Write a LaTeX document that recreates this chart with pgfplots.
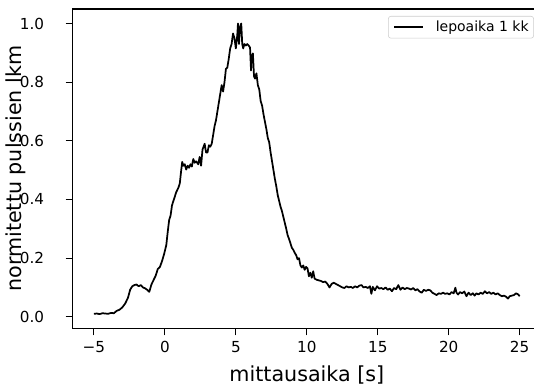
\documentclass[border=0pt]{standalone}
\usepackage{fontspec}
\setmainfont{DejaVu Sans}
\usepackage{pgfplots}
\usepackage{pgfplotstable}
\pgfplotsset{compat=1.18}
\pgfplotstableread{
t v
-5.0 0.010
-4.8 0.011
-4.6 0.009
-4.4 0.012
-4.2 0.011
-4.0 0.010
-3.8 0.013
-3.6 0.012
-3.4 0.020
-3.2 0.024
-3.0 0.032
-2.8 0.045
-2.6 0.065
-2.45 0.092
-2.3 0.104
-2.15 0.108
-2.0 0.110
-1.85 0.104
-1.7 0.108
-1.55 0.100
-1.4 0.097
-1.25 0.092
-1.1 0.085
-0.95 0.110
-0.8 0.125
-0.65 0.140
-0.5 0.163
-0.35 0.170
-0.2 0.190
-0.05 0.215
0.1 0.245
0.2 0.290
0.3 0.330
0.4 0.345
0.5 0.380
0.6 0.395
0.7 0.410
0.8 0.425
0.95 0.440
1.05 0.455
1.15 0.500
1.22 0.528
1.3 0.515
1.4 0.520
1.5 0.502
1.6 0.515
1.7 0.508
1.8 0.520
1.9 0.512
2.0 0.538
2.1 0.525
2.2 0.530
2.35 0.520
2.45 0.545
2.55 0.515
2.65 0.570
2.8 0.590
2.9 0.560
3.0 0.560
3.1 0.585
3.2 0.580
3.3 0.590
3.4 0.620
3.5 0.650
3.6 0.670
3.7 0.700
3.8 0.730
3.9 0.760
4.0 0.790
4.1 0.768
4.2 0.800
4.3 0.845
4.4 0.850
4.5 0.880
4.6 0.915
4.7 0.930
4.8 0.966
4.9 0.950
5.0 0.915
5.1 0.960
5.15 1.000
5.22 0.930
5.3 0.990
5.38 1.000
5.45 0.930
5.52 0.915
5.6 0.930
5.7 0.925
5.8 0.930
5.9 0.925
6.0 0.918
6.07 0.840
6.12 0.890
6.2 0.898
6.28 0.820
6.35 0.812
6.45 0.830
6.55 0.790
6.65 0.775
6.75 0.735
6.85 0.720
6.95 0.690
7.05 0.665
7.15 0.640
7.25 0.610
7.35 0.595
7.45 0.560
7.55 0.530
7.65 0.500
7.75 0.470
7.85 0.445
7.95 0.415
8.05 0.395
8.15 0.375
8.25 0.360
8.35 0.340
8.45 0.320
8.55 0.300
8.65 0.278
8.75 0.265
8.85 0.250
8.95 0.235
9.05 0.228
9.15 0.218
9.25 0.210
9.35 0.196
9.45 0.200
9.55 0.175
9.65 0.168
9.75 0.175
9.85 0.160
9.95 0.170
10.05 0.165
10.15 0.138
10.25 0.150
10.35 0.133
10.45 0.155
10.55 0.130
10.7 0.126
10.85 0.124
11.0 0.122
11.15 0.118
11.3 0.120
11.45 0.112
11.6 0.100
11.75 0.112
11.9 0.116
12.05 0.112
12.2 0.108
12.35 0.104
12.5 0.100
12.65 0.098
12.8 0.104
12.95 0.100
13.1 0.102
13.25 0.098
13.4 0.104
13.55 0.100
13.7 0.106
13.85 0.108
14.0 0.100
14.15 0.102
14.3 0.098
14.45 0.104
14.55 0.078
14.65 0.102
14.8 0.090
14.95 0.104
15.1 0.096
15.25 0.098
15.4 0.094
15.55 0.100
15.7 0.092
15.85 0.096
16.0 0.087
16.15 0.098
16.3 0.094
16.45 0.108
16.6 0.092
16.75 0.100
16.9 0.094
17.05 0.098
17.2 0.096
17.35 0.093
17.5 0.098
17.65 0.090
17.8 0.094
17.95 0.086
18.1 0.082
18.25 0.092
18.4 0.088
18.55 0.092
18.7 0.090
18.85 0.082
19.0 0.078
19.15 0.074
19.3 0.080
19.45 0.078
19.6 0.082
19.75 0.078
19.9 0.080
20.05 0.076
20.2 0.084
20.35 0.080
20.47 0.099
20.55 0.082
20.66 0.076
20.8 0.084
20.95 0.080
21.1 0.086
21.25 0.070
21.4 0.082
21.55 0.074
21.7 0.080
21.83 0.072
21.95 0.080
22.1 0.076
22.25 0.082
22.4 0.078
22.55 0.087
22.7 0.080
22.85 0.084
23.0 0.078
23.15 0.082
23.3 0.076
23.45 0.080
23.6 0.074
23.75 0.070
23.9 0.072
24.05 0.068
24.18 0.062
24.3 0.070
24.45 0.072
24.6 0.074
24.75 0.080
24.9 0.076
25.0 0.070
}\datatable
\begin{document}
\begin{tikzpicture}
\begin{axis}[
  at={(0,0)}, anchor=south west,
  scale only axis, width=351.2pt, height=239.5pt,
  xmin=-6.5, xmax=26.5, ymin=-0.0395, ymax=1.0495,
  xtick={-5,0,5,10,15,20,25},
  xticklabels={−5,0,5,10,15,20,25},
  ytick={0,0.2,0.4,0.6,0.8,1.0},
  yticklabels={0.0,0.2,0.4,0.6,0.8,1.0},
  tick align=outside, tick pos=left,
  major tick length=5.25pt,
  every tick/.style={black, line width=0.8pt},
  axis line style={line width=0.8pt},
  tick label style={font=\fontsize{11.4pt}{13pt}\selectfont, inner sep=0pt},
  xticklabel shift=4.5pt,
  yticklabel shift=16pt,
  xlabel={mittausaika [s]},
  ylabel={normitettu pulssien lkm},
  label style={font=\fontsize{15.5pt}{18pt}\selectfont},
  xlabel style={at={(axis description cs:0.5,-0.165)}, anchor=base},
  ylabel style={at={(axis description cs:-0.121,0.5)}, anchor=center},
  legend style={at={(1,1)}, anchor=north east, xshift=-5.25pt, yshift=-5.25pt,
    draw=black!20, rounded corners=2pt, fill=white,
    font=\fontsize{10.5pt}{12pt}\selectfont,
    inner xsep=3.75pt, inner ysep=3.5pt, nodes={inner sep=0pt}, column sep=8.8pt},
  legend image code/.code={\draw[#1] (0pt,0pt) -- (21.75pt,0pt);},
  legend cell align=left,
]
\addplot[black, line width=1.3pt, line join=round] table[x=t, y=v] {\datatable};
\addlegendentry{lepoaika 1 kk}
\end{axis}
\pgfresetboundingbox
\useasboundingbox (-54.5pt,-44.8pt) rectangle (346pt,246.25pt);
\end{tikzpicture}
\end{document}
